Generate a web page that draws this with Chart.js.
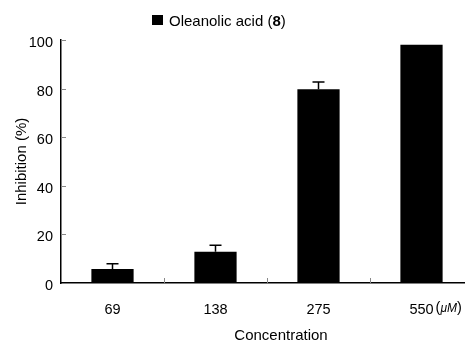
<!DOCTYPE html>
<html>
<head>
<meta charset="utf-8">
<script src="https://cdn.jsdelivr.net/npm/chart.js@4"></script>
<style>
  html, body { margin: 0; padding: 0; background: #fff; overflow: hidden; }
  canvas { display: block; }
</style>
</head>
<body>
<!-- the x axis runs a little past the right edge of the picture -->
<canvas id="chart" width="473" height="346"></canvas>
<script>
// === Data ===
const concentrations = ["69", "138", "275", "550"];
const inhibition = [5.8, 12.9, 79.7, 98];
const inhibitionSD = [2.1, 2.6, 3.0, 0];
const yTicks = [0, 20, 40, 60, 80, 100];

const FONT = "Arial, 'Liberation Sans', sans-serif";

// === Error bars, axis tick marks, legend & extra text ===
const extras = {
  id: "extras",
  afterDatasetsDraw(chart) {
    const ctx = chart.ctx;
    const x = chart.scales.x;
    const y = chart.scales.y;
    const area = chart.chartArea;
    ctx.save();

    // error bars (upper only)
    ctx.strokeStyle = "#000";
    ctx.lineWidth = 1.5;
    inhibition.forEach((v, i) => {
      const sd = inhibitionSD[i];
      if (!sd) return;
      const cx = x.getPixelForValue(i);
      const top = y.getPixelForValue(v + sd);
      ctx.beginPath();
      ctx.moveTo(cx, y.getPixelForValue(v));
      ctx.lineTo(cx, top);
      ctx.moveTo(cx - 6, top);
      ctx.lineTo(cx + 6, top);
      ctx.stroke();
    });

    // y tick marks pointing inward
    ctx.strokeStyle = "#888";
    ctx.lineWidth = 1;
    yTicks.forEach((t) => {
      if (t === 0) return;
      const py = Math.round(y.getPixelForValue(t)) + 0.5;
      ctx.beginPath();
      ctx.moveTo(area.left, py);
      ctx.lineTo(area.left + 5, py);
      ctx.stroke();
    });

    // x tick marks between categories, pointing up
    for (let i = 1; i < concentrations.length; i++) {
      const px =
        Math.round((x.getPixelForValue(i - 1) + x.getPixelForValue(i)) / 2) + 0.5;
      ctx.beginPath();
      ctx.moveTo(px, area.bottom);
      ctx.lineTo(px, area.bottom - 5);
      ctx.stroke();
    }

    // legend
    ctx.fillStyle = "#000";
    ctx.fillRect(152, 15, 11, 10);
    ctx.font = "15px " + FONT;
    ctx.textBaseline = "alphabetic";
    ctx.textAlign = "left";
    let lx = 169;
    const part1 = "Oleanolic acid (";
    ctx.fillText(part1, lx, 26);
    lx += ctx.measureText(part1).width;
    ctx.font = "bold 15px " + FONT;
    ctx.fillText("8", lx, 26);
    lx += ctx.measureText("8").width;
    ctx.font = "15px " + FONT;
    ctx.fillText(")", lx, 26);

    // unit after the last tick label
    const last = concentrations.length - 1;
    ctx.font = "14.5px " + FONT;
    ctx.textBaseline = "middle";
    let ux =
      x.getPixelForValue(last) + ctx.measureText(concentrations[last]).width / 2 + 2;
    ctx.fillText("(", ux, 308);
    ux += ctx.measureText("(").width;
    ctx.font = "italic 12px " + FONT;
    ctx.fillText("\u03BCM", ux, 309);
    ux += ctx.measureText("\u03BCM").width;
    ctx.font = "14.5px " + FONT;
    ctx.fillText(")", ux, 308);

    // x axis title
    ctx.font = "15px " + FONT;
    ctx.textAlign = "center";
    ctx.fillText("Concentration", 281, 336);

    ctx.restore();
  },
};

new Chart(document.getElementById("chart").getContext("2d"), {
  type: "bar",
  data: {
    labels: concentrations,
    datasets: [
      {
        label: "Oleanolic acid (8)",
        data: inhibition,
        backgroundColor: "#000",
        borderWidth: 0,
        barPercentage: 0.41,
        categoryPercentage: 1,
      },
    ],
  },
  options: {
    responsive: false,
    animation: false,
    layout: { padding: { top: 40, right: 0, left: 0, bottom: 0 } },
    plugins: {
      legend: { display: false },
      tooltip: { enabled: false },
    },
    scales: {
      x: {
        grid: { display: false, drawTicks: false },
        border: { display: true, color: "#000", width: 1.5 },
        ticks: { color: "#000", font: { family: FONT, size: 14.5 }, padding: 18 },
        afterFit: (s) => { s.height = 63; },
      },
      y: {
        min: 0,
        max: 100,
        afterBuildTicks: (s) => { s.ticks = yTicks.map((v) => ({ value: v })); },
        grid: { display: false, drawTicks: false },
        border: { display: true, color: "#000", width: 1.5 },
        ticks: {
          color: "#000",
          font: { family: FONT, size: 14.5 },
          padding: 8,
          labelOffset: 3,
        },
        title: {
          display: true,
          text: "Inhibition (%)",
          color: "#000",
          font: { family: FONT, size: 15 },
          padding: { top: 13, bottom: 0 },
        },
        afterFit: (s) => { s.width = 61; },
      },
    },
  },
  plugins: [extras],
});
</script>
</body>
</html>
